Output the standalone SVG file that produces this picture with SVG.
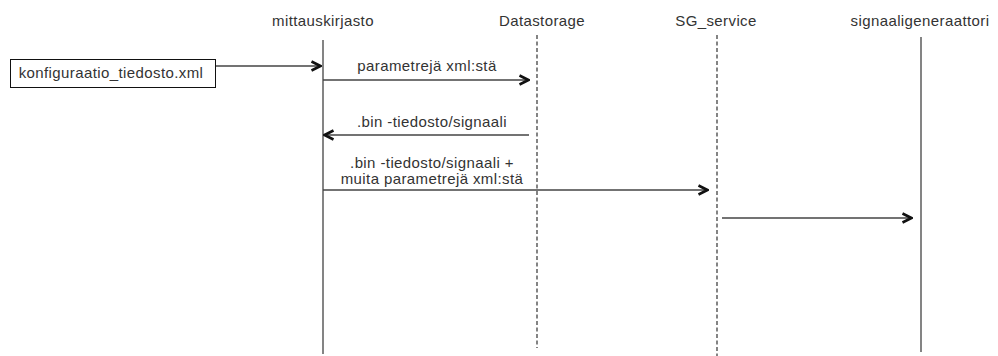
<svg xmlns="http://www.w3.org/2000/svg" width="998" height="356" viewBox="0 0 998 356">
<defs>
<marker id="open" viewBox="0 0 12 12" refX="11" refY="6" markerWidth="12" markerHeight="12" markerUnits="userSpaceOnUse" orient="auto">
<path d="M1.5,1.5 L10.5,6 L1.5,10.5" fill="none" stroke="#111" stroke-width="2.6"/>
</marker>
<style>
text{font-family:"Liberation Sans",Arial,sans-serif;font-size:15px;letter-spacing:0.4px;fill:#333;text-anchor:middle}
.life{stroke:#777;stroke-width:1.8;fill:none}
.dash{stroke-dasharray:4 2.5}
.msg{stroke:#444;stroke-width:1.6;fill:none;marker-end:url(#open)}
</style>
</defs>
<rect width="998" height="356" fill="#fff"/>
<g id="mittauskirjasto">
<text x="323" y="26">mittauskirjasto</text>
<line class="life" x1="323" y1="40" x2="323" y2="354"/>
</g>
<g id="datastorage">
<text x="542" y="26">Datastorage</text>
<line class="life dash" x1="537" y1="35" x2="537" y2="348"/>
</g>
<g id="sg_service">
<text x="716" y="26">SG_service</text>
<line class="life dash" x1="717" y1="35" x2="717" y2="356"/>
</g>
<g id="signaaligeneraattori">
<text x="920" y="26">signaaligeneraattori</text>
<line class="life" x1="921" y1="37" x2="921" y2="352"/>
</g>
<g id="konfiguraatio">
<rect x="10.5" y="59.5" width="205" height="28" fill="#fff" stroke="#111" stroke-width="1"/>
<text x="111" y="78">konfiguraatio_tiedosto.xml</text>
</g>
<g id="connectors">
<line class="msg" x1="216" y1="66" x2="321" y2="66"/>
<line class="msg" x1="323" y1="80" x2="529" y2="80"/>
<text x="427" y="71">parametrejä xml:stä</text>
<line class="msg" x1="529" y1="135" x2="324" y2="135"/>
<text x="432" y="127">.bin -tiedosto/signaali</text>
<line class="msg" x1="323" y1="190" x2="708" y2="190"/>
<text x="432" y="168">.bin -tiedosto/signaali +</text>
<text x="432" y="184">muita parametrejä xml:stä</text>
<line class="msg" x1="722" y1="218" x2="912" y2="218"/>
</g>
</svg>
